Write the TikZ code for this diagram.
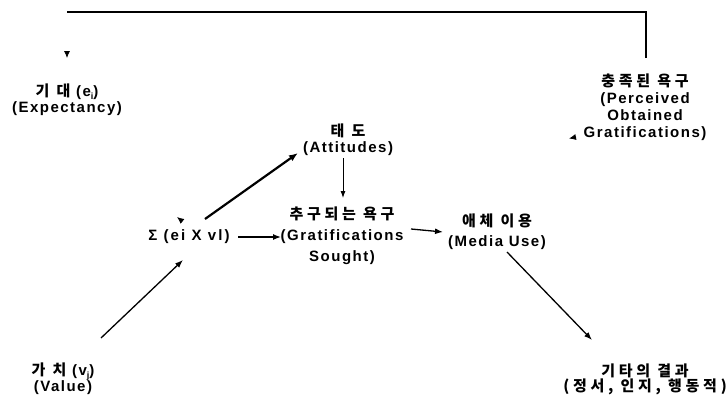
\documentclass[tikz,border=0pt]{standalone}
\usepackage{fontspec}
\setmainfont{Liberation Sans}[LetterSpace=10]
\newfontfamily\kr{Noto Sans CJK KR}[LetterSpace=25]
\usetikzlibrary{arrows.meta}
\newcommand\subx[1]{\raisebox{-2.5pt}{\fontsize{9}{9}\selectfont #1}}
\begin{document}
\begin{tikzpicture}[x=1pt,y=-1pt,
  lbl/.style={align=center,inner sep=0pt,font=\bfseries\fontsize{15}{16}\selectfont},
  conn/.style={line width=1.3pt,-{Latex[length=8pt,width=6pt]}},
  thinconn/.style={line width=0.9pt,-{Latex[length=7pt,width=5pt]}},
  thickconn/.style={line width=2.2pt,-{Latex[length=9pt,width=7pt]}},
  stub/.style={line width=0.8pt,-{Latex[length=7pt,width=6pt]}},
  loopline/.style={line width=2pt}]
\useasboundingbox (0,0) rectangle (726,399);

\node[lbl] (exp) at (67,100) {{\kr 기 대} (e\subx{i})\\(Expectancy)};
\node[lbl,font=\bfseries\fontsize{15}{17}\selectfont] (obt) at (645,107.5)
  {{\kr 충족된 욕구}\\(Perceived\\Obtained\\Gratifications)};
\node[lbl] (att) at (348,140) {{\kr 태 도}\\(Attitudes)};
\node[lbl,font=\bfseries\fontsize{15}{21}\selectfont] (gs) at (342,236)
  {{\kr 추구되는 욕구}\\(Gratifications\\Sought)};
\node[lbl,font=\bfseries\fontsize{15}{16}\addfontfeature{LetterSpace=14}] (sig) at (189,237) {Σ (ei X vl)};
\node[lbl,font=\bfseries\fontsize{15}{20}\selectfont] (media) at (497,232)
  {{\kr 애체 이용}\\(Media Use)};
\node[lbl,font=\bfseries\fontsize{15}{15}\selectfont] (val) at (63,379)
  {{\kr 가 치} (v\subx{j})\\(Value)};
\node[lbl,font=\bfseries\fontsize{15}{15}\selectfont] (other) at (645,379)
  {{\kr 기타의 결과}\\{\kr (정서, 인지, 행동적)}};

\draw[conn] ([shift={(38,-41)}]val.center) -- ([shift={(-6,23)}]sig.center);
\draw[thickconn] ([shift={(16,-18)}]sig.center) -- ([shift={(-50,13)}]att.center);
\draw[conn] ([shift={(49,0)}]sig.center) -- ([shift={(-61,1)}]gs.center);
\draw[thinconn] ([shift={(-5,18)}]att.center) -- ([shift={(1,-38)}]gs.center);
\draw[conn] ([shift={(69,-7)}]gs.center) -- ([shift={(-54,0)}]media.center);
\draw[conn] ([shift={(10,20)}]media.center) -- ([shift={(-53,-39)}]other.center);

\draw[loopline] ([shift={(1,-49.5)}]obt.center) |- ([shift={(0,-88)}]exp.center);
\draw[stub] ([shift={(0,-49)}]exp.center) -- ([shift={(0,-42)}]exp.center);
\draw[stub] ([shift={(-69,29.5)}]obt.center) -- ([shift={(-76,31)}]obt.center);
\draw[stub] ([shift={(-7,-16)}]sig.center) -- ([shift={(-12,-20)}]sig.center);
\end{tikzpicture}
\end{document}
